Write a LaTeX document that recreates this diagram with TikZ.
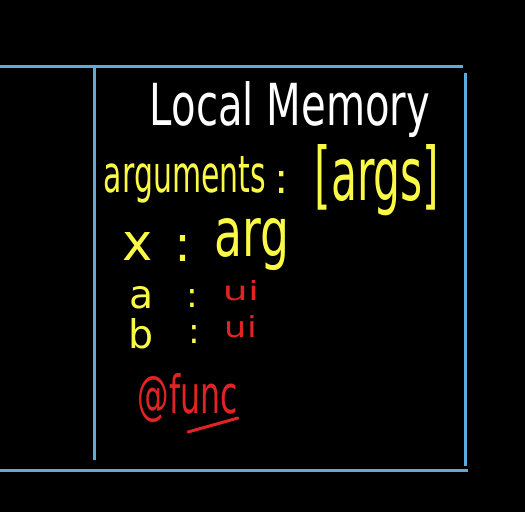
\documentclass[tikz,border=0pt]{standalone}
\usepackage{fontspec}
\setmainfont{DejaVu Sans}
\usepackage{graphicx}
\definecolor{boardblue}{RGB}{95,170,215}
\definecolor{chalkyellow}{RGB}{250,250,70}
\definecolor{chalkred}{RGB}{225,35,35}
\tikzset{
  frameline/.style={draw=boardblue, line width=3pt},
  title/.style={text=white, inner sep=0pt, anchor=center},
  ylabel/.style={text=chalkyellow, inner sep=0pt, anchor=center},
  rlabel/.style={text=chalkred, inner sep=0pt, anchor=center},
}
\begin{document}
\begin{tikzpicture}[x=1pt,y=-1pt]
\fill[black] (0,0) rectangle (525,512);
\useasboundingbox (0,0) rectangle (525,512);
% frame lines
\coordinate (tl) at (0,66);
\coordinate (tr) at (463,66);
\coordinate (bl) at (0,470);
\coordinate (br) at (468,470);
\coordinate (lv1) at (94,66);
\coordinate (lv2) at (94,460);
\coordinate (rv1) at (465,73);
\coordinate (rv2) at (465,466);
\draw[frameline] (tl) -- (tr);
\draw[frameline] (bl) -- (br);
\draw[frameline] (lv1) -- (lv2);
\draw[frameline] (rv1) -- (rv2);
% texts
\node[title] (ttl) at (290,110) {\resizebox{280pt}{44pt}{Local Memory}};
\node[ylabel] (arg) at (185,180) {\resizebox{162pt}{36pt}{arguments}};
\node[ylabel] (argc) at (282,182) {\resizebox{!}{22pt}{:}};
\node[ylabel] (args) at (377,180) {\resizebox{125pt}{56pt}{[args]}};
\node[ylabel] (x) at (138,246) {\resizebox{!}{28pt}{x}};
\node[ylabel] (xc) at (183,248) {\resizebox{!}{26pt}{:}};
\node[ylabel] (xv) at (252,245) {\resizebox{75pt}{38pt}{arg}};
\node[ylabel] (a) at (142,298) {\resizebox{!}{22pt}{a}};
\node[ylabel] (ac) at (192,298) {\resizebox{!}{18pt}{:}};
\node[rlabel] (av) at (241,291) {\resizebox{36pt}{20pt}{ui}};
\node[ylabel] (b) at (141,334) {\resizebox{!}{30pt}{b}};
\node[ylabel] (bc) at (194,334) {\resizebox{!}{18pt}{:}};
\node[rlabel] (bv) at (241,327) {\resizebox{32pt}{22pt}{ui}};
\node[rlabel] (fn) at (188,398) {\resizebox{100pt}{40pt}{@func}};
\coordinate (u1) at (188,432);
\coordinate (u2) at (238,418);
\draw[chalkred, line width=3pt, line cap=round] (u1) -- (u2);
\end{tikzpicture}
\end{document}
